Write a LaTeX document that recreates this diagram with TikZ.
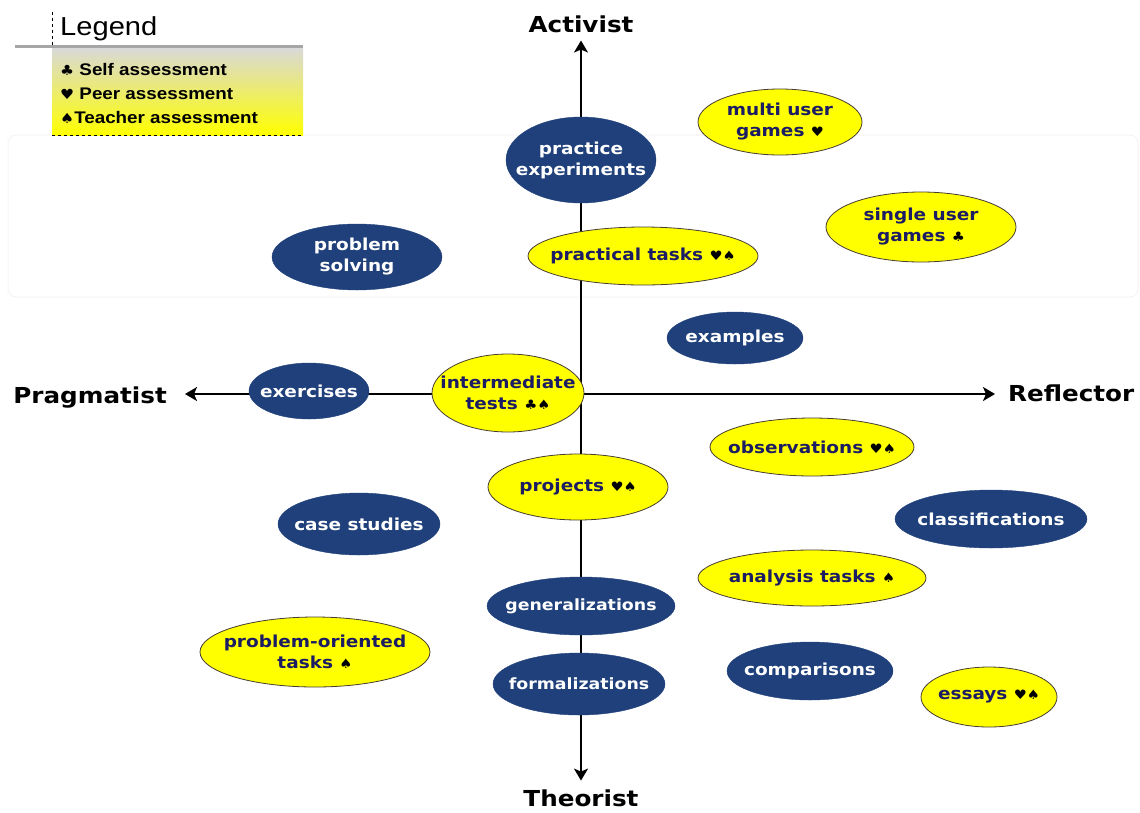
\documentclass[tikz,border=0pt]{standalone}
\usepackage{fontspec}
\setmainfont{DejaVu Sans}[FakeStretch=1.12]
\newfontfamily\legendfont{Liberation Sans}[FakeStretch=1.12]
\newfontfamily\suitfont{DejaVu Sans}[FakeStretch=1.12]
\usetikzlibrary{shapes.geometric,arrows.meta}
\definecolor{itemblue}{RGB}{31,64,122}
\definecolor{itemyellow}{RGB}{255,255,0}
\definecolor{itemnavy}{RGB}{28,28,100}
\definecolor{rimbrown}{RGB}{70,60,50}
\newcommand{\itemfont}{\fontsize{16.5}{21}\selectfont\bfseries}
\newcommand{\axisfont}{\fontsize{22}{26}\selectfont\bfseries}
\newcommand{\sclub}{{\suitfont\fontsize{13}{13}\selectfont\color{black}♣}}
\newcommand{\sheart}{{\suitfont\fontsize{13}{13}\selectfont\color{black}♥}}
\newcommand{\sspade}{{\suitfont\fontsize{13}{13}\selectfont\color{black}♠}}
\begin{document}
\begin{tikzpicture}[x=1pt, y=-1pt,
  item/.style={shape=ellipse, inner sep=-30pt, align=center, font=\itemfont},
  blueitem/.style={item, fill=itemblue, draw=itemblue, text=white},
  yellowitem/.style={item, fill=itemyellow, draw=rimbrown, line width=0.8pt, text=itemnavy},
  axislabel/.style={inner sep=0pt, font=\axisfont},
  axis/.style={-{Stealth[length=12pt, width=14pt, inset=3pt]}, line width=2pt},
  legenditem/.style={anchor=base west, inner sep=0pt, font=\legendfont\fontsize{16.8}{20}\selectfont\bfseries}]
\useasboundingbox (0,0) rectangle (1140,812);
% faint frame
\draw[gray!9, line width=1pt, rounded corners=8pt] (8,135) rectangle (1138,297);
% legend
\shade[top color=gray!30, bottom color=itemyellow] (52,48) rectangle (303,135);
\draw[gray!70, line width=3pt] (15,46) -- (303,46);
\draw[dashed, line width=0.6pt] (52,12) -- (52,45);
\draw[dashed, line width=0.8pt] (52,135) -- (303,135);
\node[anchor=base west, inner sep=0pt, font=\legendfont\fontsize{26}{30}\selectfont] (legend) at (60,35) {Legend};
\node[legenditem] (self) at (60,75) {{\suitfont\fontsize{14}{14}\selectfont ♣} Self assessment};
\node[legenditem] (peer) at (60,99) {{\suitfont\fontsize{14}{14}\selectfont ♥} Peer assessment};
\node[legenditem] (teacher) at (60,123) {{\suitfont\fontsize{14}{14}\selectfont ♠}Teacher assessment};
% axes
\coordinate (O) at (581,394);
\node[axislabel, anchor=base] (act) at (581,32) {Activist};
\node[axislabel, anchor=base] (theo) at (581,806) {Theorist};
\node[axislabel, anchor=base east] (prag) at (167,403) {Pragmatist};
\node[axislabel, anchor=base west] (refl) at (1008,401) {Reflector};
\draw[axis, shorten >=8pt] (O) -- (O |- act.south);
\draw[axis, shorten >=8.5pt] (O) -- (O |- theo.north);
\draw[axis, shorten >=18pt] (O) -- (O -| prag.east);
\draw[axis, shorten >=13pt] (O) -- (O -| refl.west);
% items
\node[blueitem, minimum width=150pt, minimum height=86pt] (practice) at (581,160) {practice\\experiments};
\node[yellowitem, minimum width=164pt, minimum height=66pt] (multi) at (780,122) {multi user\\games \sheart};
\node[yellowitem, minimum width=190pt, minimum height=70pt] (single) at (921,227) {single user\\games \sclub};
\node[blueitem, minimum width=170pt, minimum height=66pt] (solving) at (357,257) {problem\\solving};
\node[yellowitem, minimum width=230pt, minimum height=58pt] (practical) at (643,256) {practical tasks \sheart\sspade};
\node[blueitem, minimum width=136pt, minimum height=52pt] (examples) at (735,338) {examples};
\node[blueitem, minimum width=120pt, minimum height=56pt] (exercises) at (309,391) {exercises};
\node[yellowitem, minimum width=152pt, minimum height=78pt] (intermediate) at (508,393) {intermediate\\tests \sclub\sspade};
\node[yellowitem, minimum width=204pt, minimum height=58pt] (observations) at (812,447) {observations \sheart\sspade};
\node[yellowitem, minimum width=180pt, minimum height=66pt] (projects) at (578,487) {projects \sheart\sspade};
\node[blueitem, minimum width=162pt, minimum height=62pt] (cases) at (359,524) {case studies};
\node[blueitem, minimum width=192pt, minimum height=58pt] (classifications) at (991,519) {classifications};
\node[yellowitem, minimum width=228pt, minimum height=56pt] (analysis) at (812,578) {analysis tasks \sspade};
\node[blueitem, minimum width=188pt, minimum height=58pt, font=\fontsize{15.5}{19}\selectfont\bfseries] (generalizations) at (581,606) {generalizations};
\node[yellowitem, minimum width=230pt, minimum height=70pt] (oriented) at (315,652) {problem-oriented\\tasks \sspade};
\node[blueitem, minimum width=166pt, minimum height=58pt] (comparisons) at (810,671) {comparisons};
\node[blueitem, minimum width=172pt, minimum height=62pt, font=\fontsize{15.5}{19}\selectfont\bfseries] (formalizations) at (579,684) {formalizations};
\node[yellowitem, minimum width=136pt, minimum height=60pt] (essays) at (989,697) {essays \sheart\sspade};
\end{tikzpicture}
\end{document}
